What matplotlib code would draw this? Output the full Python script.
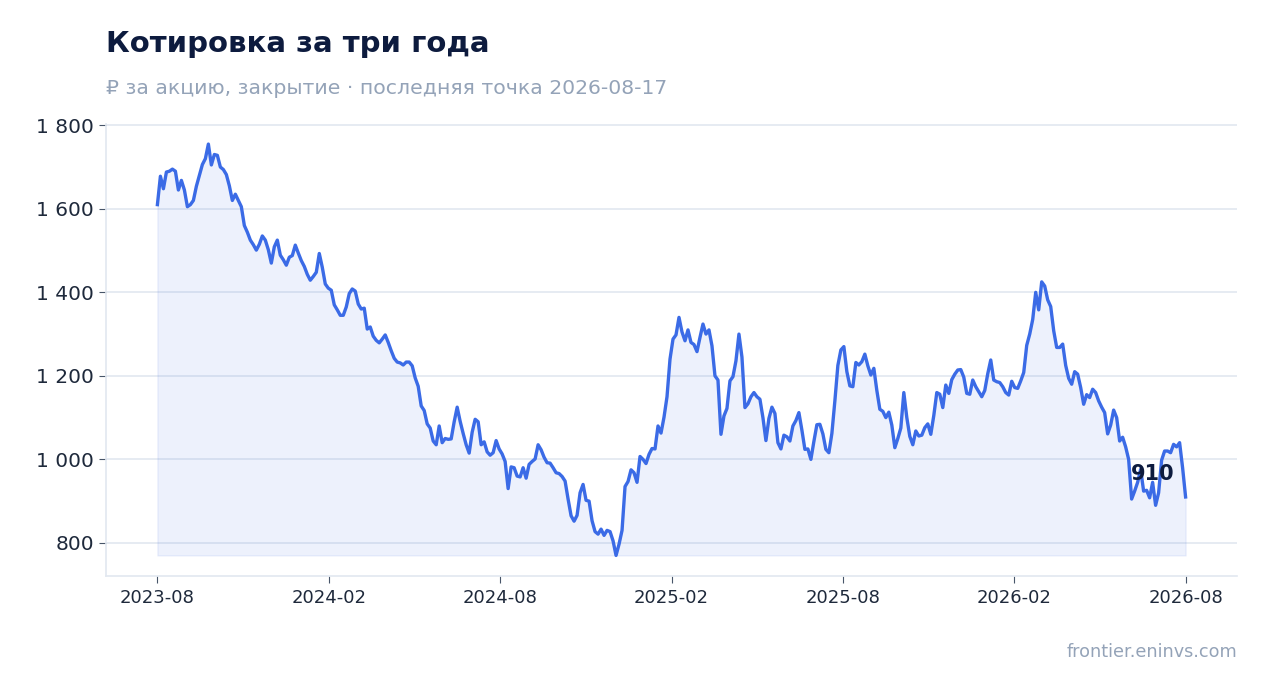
import matplotlib
matplotlib.use("Agg")
import matplotlib.pyplot as plt
import matplotlib.dates as mdates
from matplotlib.ticker import FuncFormatter
import numpy as np
import pandas as pd

start_date = "2023-08-17"
end_date = "2026-08-17"

# closing price, RUB (~3-day step)
close = [
    1610, 1678, 1648, 1688, 1690, 1695, 1690, 1645, 1668, 1645,
    1605, 1610, 1620, 1654, 1680, 1706, 1720, 1755, 1705, 1730,
    1728, 1700, 1694, 1682, 1655, 1620, 1635, 1620, 1605, 1560,
    1544, 1525, 1514, 1501, 1515, 1535, 1525, 1502, 1470, 1509,
    1525, 1489, 1478, 1465, 1484, 1488, 1513, 1494, 1476, 1462,
    1443, 1429, 1438, 1448, 1493, 1460, 1420, 1410,
    1405, 1370, 1358, 1345, 1345, 1365, 1397, 1408, 1403, 1372,
    1360, 1362, 1312, 1317, 1295, 1285, 1279, 1288, 1298, 1280,
    1260, 1242, 1233, 1231, 1226, 1233, 1233, 1224, 1195, 1175,
    1128, 1117, 1085, 1075, 1044, 1035, 1080, 1040, 1050, 1048,
    1049, 1090, 1125, 1091, 1062, 1035, 1015, 1065, 1096, 1090,
    1035, 1042, 1018, 1010, 1016, 1045, 1025, 1013,
    995, 930, 982, 980, 960, 958, 980, 955, 988, 995,
    1001, 1035, 1023, 1005, 992, 991, 980, 968, 966, 959,
    948, 905, 865, 852, 866, 920, 940, 902, 900, 853,
    827, 821, 833, 818, 830, 827, 805, 770, 797, 830,
    935, 947, 975, 968, 945, 1007, 1000, 990, 1012, 1026,
    1025, 1080, 1063, 1101, 1150, 1240, 1288, 1298, 1340,
    1305, 1284, 1310, 1280, 1275, 1258, 1292, 1324, 1300, 1310,
    1272, 1200, 1190, 1060, 1104, 1122, 1188, 1198, 1236, 1300,
    1245, 1124, 1133, 1150, 1160, 1150, 1144, 1100, 1045, 1098,
    1125, 1110, 1040, 1025, 1058, 1054, 1044, 1080, 1093, 1112,
    1070, 1024, 1025, 1000, 1043, 1083, 1084, 1061, 1024, 1016,
    1062, 1140, 1225, 1262, 1270, 1210, 1176, 1174,
    1232, 1226, 1234, 1252, 1224, 1202, 1218, 1165, 1120, 1115,
    1100, 1113, 1082, 1028, 1050, 1075, 1160, 1100, 1055, 1035,
    1068, 1056, 1058, 1076, 1085, 1060, 1105, 1160, 1156, 1124,
    1178, 1158, 1191, 1204, 1214, 1215, 1197, 1158, 1156, 1190,
    1174, 1162, 1150, 1165, 1205, 1238, 1190, 1186, 1184, 1174,
    1160, 1154, 1187, 1172, 1170, 1188, 1208, 1273,
    1300, 1335, 1400, 1358, 1425, 1415, 1382, 1366, 1308, 1268,
    1268, 1276, 1225, 1194, 1180, 1210, 1204, 1172, 1132, 1155,
    1148, 1168, 1160, 1140, 1125, 1112, 1061, 1082, 1118, 1100,
    1044, 1053, 1030, 1000, 905, 924, 945, 976, 924, 926,
    908, 945, 890, 920, 998, 1020, 1020, 1016, 1036, 1030,
    1040, 980, 910,
]

dates = pd.date_range(start_date, end_date, periods=len(close))
tick_dates = pd.to_datetime(np.linspace(dates[0].value, dates[-1].value, 7))
yticks = [800, 1000, 1200, 1400, 1600, 1800]

blue = "#3b6be6"
navy = "#0d1b3e"
muted = "#94a3b8"
grid_c = "#e2e8f0"
text_c = "#1e293b"

fig = plt.figure(figsize=(12.68, 6.93), dpi=100)
ax = fig.add_axes([106 / 1268, 1 - 576 / 693, (1237 - 106) / 1268, (576 - 123.5) / 693])

ax.fill_between(dates, close, min(close), color=blue, alpha=0.09, linewidth=1)
ax.plot(dates, close, color=blue, lw=2.4, solid_joinstyle="round")

ax.set_yticks(yticks)
ax.yaxis.set_major_formatter(FuncFormatter(lambda v, p: f"{v:,.0f}".replace(",", " ")))
ax.set_xticks(tick_dates)
ax.xaxis.set_major_formatter(mdates.DateFormatter("%Y-%m"))

ax.grid(axis="y", color=grid_c, lw=1.2)
ax.set_axisbelow(True)
for s in ["top", "right"]:
    ax.spines[s].set_visible(False)
for s in ["left", "bottom"]:
    ax.spines[s].set_color(grid_c)
    ax.spines[s].set_linewidth(1.2)
ax.tick_params(axis="y", labelsize=14.5, colors=text_c, length=5, pad=3.5)
ax.tick_params(axis="x", labelsize=13, colors=text_c, length=5, pad=4.5)
ax.tick_params(axis="both", color="#475569")

ax.annotate(f"{close[-1]}", (dates[-1], close[-1]), xytext=(-8, 9),
            textcoords="offset points", ha="right", va="bottom",
            fontsize=15, fontweight="bold", color=navy)

fig.text(106 / 1268, 1 - 44 / 693, "Котировка за три года", fontsize=21,
         fontweight="bold", color=navy, va="center", ha="left")
fig.text(106 / 1268, 1 - 88 / 693, "₽ за акцию, закрытие · последняя точка 2026-08-17",
         fontsize=14.7, color=muted, va="center", ha="left")
fig.text(1237 / 1268, 1 - 652 / 693, "frontier.eninvs.com", fontsize=12.7,
         color=muted, va="center", ha="right")

fig.savefig("out.png", dpi=100)
